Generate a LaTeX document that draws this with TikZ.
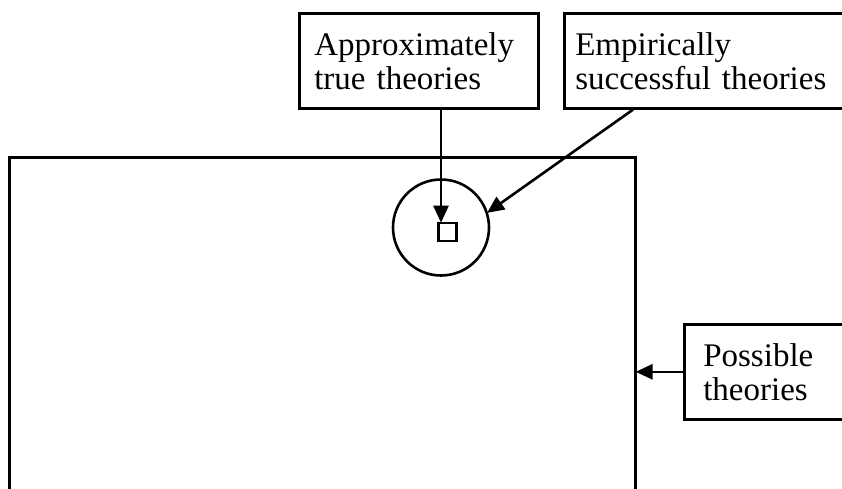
\documentclass[tikz,border=0pt]{standalone}
\usepackage{fontspec}
\setmainfont{Liberation Serif}
\usetikzlibrary{arrows.meta}
\begin{document}
\begin{tikzpicture}[x=1pt,y=-1pt,
  lw/.style={line width=2.6pt},
  labelbox/.style={draw, lw, rectangle, align=left, anchor=north west,
    font=\fontsize{33}{34}\selectfont, inner ysep=0pt},
  arr/.style={lw, -{Triangle[length=17pt,width=15pt]}, shorten >=-1pt}]
\useasboundingbox (0,0) rectangle (842,488);
\clip (0,0) rectangle (842,488);
% main rectangle (possible theories)
\node[draw, lw, rectangle, minimum width=626, minimum height=360, anchor=north west, inner sep=0] (main) at (8,156) {};
% circle (empirically successful) and square (approximately true)
\node[draw, lw, circle, minimum size=96, inner sep=0] (circ) at (441,227.5) {};
\node[draw, lw, rectangle, minimum size=18, inner sep=0] (sq) at (447.5,232) {};
% label boxes
\node[labelbox, text width=209, inner xsep=15, minimum height=95] (apx) at (298,12) {Approximately\\true theories};
\node[labelbox, text width=290, inner xsep=11, minimum height=95] (emp) at (563,12) {Empirically\\successful theories};
\node[labelbox, text width=160, inner xsep=19, minimum height=95] (pos) at (683,323) {Possible\\theories};
% connectors
\draw[arr] (apx.south -| 441,0) -- (sq.north -| 441,0);
\draw[arr] (emp.south -| 633,0) -- (circ.18);
\draw[arr] (pos.west) -- (pos.west -| main.east);
\end{tikzpicture}
\end{document}
